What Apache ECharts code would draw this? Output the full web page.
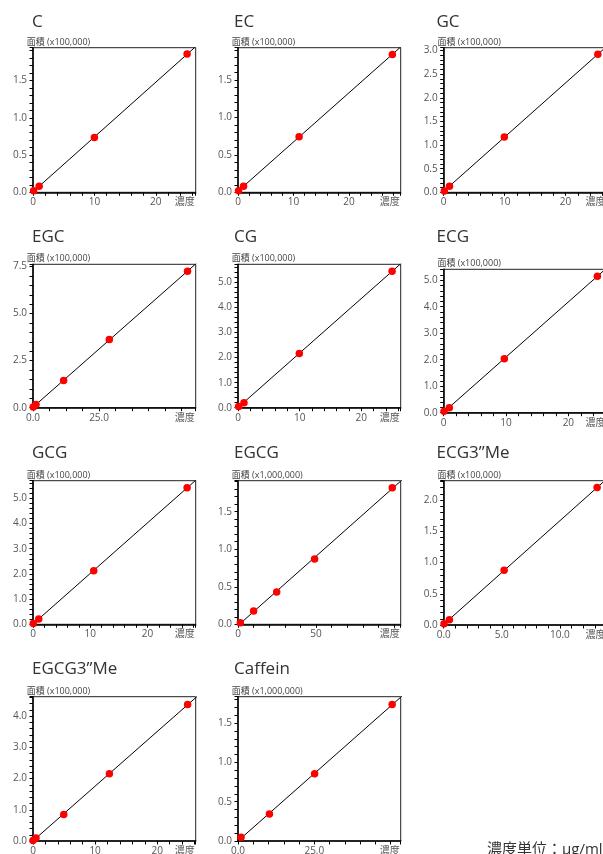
<!DOCTYPE html>
<html><head><meta charset="utf-8">
<script src="https://cdn.jsdelivr.net/npm/echarts/dist/echarts.min.js"></script>
<style>html,body{margin:0;padding:0;background:#fff}#chart{width:603px;height:854px}</style>
</head><body><div id="chart"></div>
<script>
// ---- data (concentration μg/ml, peak area in axis units) ----
const C_conc = [0.1, 1.0, 10.0, 25.1];
const C_area = [0.02, 0.08, 0.735, 1.855];
const EC_conc = [0.1, 1.0, 11.0, 27.8];
const EC_area = [0.02, 0.08, 0.743, 1.84];
const GC_conc = [0.1, 0.95, 9.95, 25.3];
const GC_area = [0.03, 0.13, 1.17, 2.92];
const EGC_conc = [0.1, 1.15, 11.6, 28.9, 58.5];
const EGC_area = [0.04, 0.17, 1.45, 3.62, 7.25];
const CG_conc = [0.1, 0.97, 9.95, 25.0];
const CG_area = [0.05, 0.2, 2.17, 5.45];
const ECG_conc = [0.05, 0.9, 9.73, 24.65];
const ECG_area = [0.05, 0.19, 2.04, 5.15];
const GCG_conc = [0.05, 1.0, 10.6, 26.9];
const GCG_area = [0.03, 0.21, 2.13, 5.42];
const EGCG_conc = [1.5, 10.0, 24.8, 49.1, 98.9];
const EGCG_area = [0.022, 0.178, 0.43, 0.87, 1.82];
const ECG3Me_conc = [0.03, 0.49, 5.2, 13.2];
const ECG3Me_area = [0.02, 0.085, 0.875, 2.2];
const EGCG3Me_conc = [0.0, 0.48, 4.95, 12.3, 24.9];
const EGCG3Me_area = [0.02, 0.1, 0.85, 2.15, 4.37];
const Caffein_conc = [1.0, 10.3, 25.1, 50.5];
const Caffein_area = [0.047, 0.343, 0.856, 1.737];

// ---- tick labels ----
const int10X = ['0', '10', '20'];
const EGC_xTicks = ['0.0', '25.0'];
const EGCG_xTicks = ['0', '50'];
const ECG3Me_xTicks = ['0.0', '5.0', '10.0'];
const Caffein_xTicks = ['0.0', '25.0'];
const y05to15 = ['0.0', '0.5', '1.0', '1.5'];
const y05to30 = ['0.0', '0.5', '1.0', '1.5', '2.0', '2.5', '3.0'];
const y25to75 = ['0.0', '2.5', '5.0', '7.5'];
const y1to5 = ['0.0', '1.0', '2.0', '3.0', '4.0', '5.0'];
const y05to20 = ['0.0', '0.5', '1.0', '1.5', '2.0'];
const y1to4 = ['0.0', '1.0', '2.0', '3.0', '4.0'];

const U5 = '面積 (x100,000)';
const U6 = '面積 (x1,000,000)';

const colLeft = [33, 238, 443.7];
const titleLeft = [32, 234, 436.5];
const W = 162.7;

const panels = [
  {t:'C', u:U5, x:C_conc, y:C_area, xl:int10X, yl:y05to15, xMax:26.5, yMax:1.94, xs:2, ys:0.1, col:0, top:47.7, h:144.6, tt:13.5},
  {t:'EC', u:U5, x:EC_conc, y:EC_area, xl:int10X, yl:y05to15, xMax:29.3, yMax:1.93, xs:2, ys:0.1, col:1, top:47.7, h:144.6, tt:13.5},
  {t:'GC', u:U5, x:GC_conc, y:GC_area, xl:int10X, yl:y05to30, xMax:26.7, yMax:3.06, xs:2, ys:0.1, col:2, top:47.7, h:144.6, tt:13.5},
  {t:'EGC', u:U5, x:EGC_conc, y:EGC_area, xl:EGC_xTicks, yl:y25to75, xMax:61.6, yMax:7.62, xs:6.25, ys:0.5, col:0, top:264.3, h:143.4, tt:228.5},
  {t:'CG', u:U5, x:CG_conc, y:CG_area, xl:int10X, yl:y1to5, xMax:26.4, yMax:5.73, xs:2, ys:0.2, col:1, top:264.3, h:143.4, tt:228.5},
  {t:'ECG', u:U5, x:ECG_conc, y:ECG_area, xl:int10X, yl:y1to5, xMax:26.1, yMax:5.41, xs:2, ys:0.2, col:2, top:269.3, h:143.4, tt:228.5},
  {t:'GCG', u:U5, x:GCG_conc, y:GCG_area, xl:int10X, yl:y1to5, xMax:28.4, yMax:5.7, xs:2, ys:0.2, col:0, top:480.7, h:143.6, tt:444.5},
  {t:'EGCG', u:U6, x:EGCG_conc, y:EGCG_area, xl:EGCG_xTicks, yl:y05to15, xMax:104.3, yMax:1.913, xs:10, ys:0.1, col:1, top:480.7, h:143.6, tt:444.5},
  {t:'ECG3\u201dMe', u:U5, x:ECG3Me_conc, y:ECG3Me_area, xl:ECG3Me_xTicks, yl:y05to20, xMax:14.0, yMax:2.31, xs:1, ys:0.1, col:2, top:480.7, h:144.3, tt:444.5},
  {t:'EGCG3\u201dMe', u:U5, x:EGCG3Me_conc, y:EGCG3Me_area, xl:int10X, yl:y1to4, xMax:26.2, yMax:4.62, xs:2, ys:0.2, col:0, top:696.7, h:144.3, tt:660.5},
  {t:'Caffein', u:U6, x:Caffein_conc, y:Caffein_area, xl:Caffein_xTicks, yl:y05to15, xMax:53.3, yMax:1.835, xs:5, ys:0.1, col:1, top:696.7, h:144.3, tt:660.5}
];

const FONT = "'Open Sans','Noto Sans CJK JP',sans-serif";

function labelFor(list, v) {
  for (const s of list) if (Math.abs(parseFloat(s) - v) < 1e-6) return s;
  return '';
}
function fit(xs, ys) {
  const n = xs.length;
  let sx = 0, sy = 0, sxx = 0, sxy = 0;
  for (let i = 0; i < n; i++) { sx += xs[i]; sy += ys[i]; sxx += xs[i]*xs[i]; sxy += xs[i]*ys[i]; }
  const k = (n*sxy - sx*sy) / (n*sxx - sx*sx);
  return {k, b: (sy - k*sx) / n};
}

const grid = [], xAxis = [], yAxis = [], series = [], title = [];
panels.forEach((p, i) => {
  const left = colLeft[p.col];
  grid.push({left, top: p.top, width: W, height: p.h, show: true, borderColor: '#222', borderWidth: 1,
             backgroundColor: '#fff', containLabel: false, outerBoundsMode: 'none'});
  xAxis.push({
    gridIndex: i, type: 'value', min: 0, max: p.xMax, interval: p.xs,
    axisLine: {show: true, onZero: false, lineStyle: {color: '#000', width: 1.5}},
    axisTick: {show: true, inside: false, length: 3.5, lineStyle: {color: '#000', width: 1}},
    splitLine: {show: false},
    axisLabel: {margin: 5, fontSize: 10, color: '#555', fontFamily: FONT, hideOverlap: false,
                formatter: v => labelFor(p.xl, v)},
    name: '濃度', nameLocation: 'end', nameGap: -11, nameMoveOverlap: false,
    nameTextStyle: {align: 'center', verticalAlign: 'top', padding: [5, 0, 0, 0], fontSize: 10, color: '#555', fontFamily: FONT}
  });
  yAxis.push({
    gridIndex: i, type: 'value', min: 0, max: p.yMax, interval: p.ys,
    axisLine: {show: true, onZero: false, lineStyle: {color: '#000', width: 1.5}},
    axisTick: {show: true, inside: false, length: 3.5, lineStyle: {color: '#000', width: 1}},
    splitLine: {show: false},
    axisLabel: {margin: 6, fontSize: 10, color: '#555', fontFamily: FONT, hideOverlap: false,
                formatter: v => labelFor(p.yl, v)}
  });
  const f = fit(p.x, p.y);
  const xe = p.xMax * 1.1;
  series.push({type: 'line', xAxisIndex: i, yAxisIndex: i, data: [[0, f.b], [xe, f.b + f.k * xe]],
               symbol: 'none', lineStyle: {color: '#000', width: 1}, clip: true, silent: true, z: 2});
  series.push({type: 'scatter', xAxisIndex: i, yAxisIndex: i, data: p.x.map((v, j) => [v, p.y[j]]),
               symbol: 'circle', symbolSize: 7.5, itemStyle: {color: '#ff0000', opacity: 1}, clip: false, z: 3});
  title.push({text: p.t, left: titleLeft[p.col], top: p.tt, padding: 0,
              textStyle: {fontSize: 17, fontWeight: 'normal', color: '#333', fontFamily: FONT}});
  title.push({text: p.u, left: left - 6.3, top: p.top - 10, padding: 0,
              textStyle: {fontSize: 9, fontWeight: 'normal', color: '#444', fontFamily: FONT}});
});
title.push({text: '濃度単位：μg/ml', left: 487, top: 842, padding: 0,
            textStyle: {fontSize: 15, fontWeight: 'normal', color: '#333', fontFamily: FONT}});

const chart = echarts.init(document.getElementById('chart'), null, {renderer: 'canvas'});
chart.setOption({animation: false, backgroundColor: '#fff', title, grid, xAxis, yAxis, series});
</script></body></html>
